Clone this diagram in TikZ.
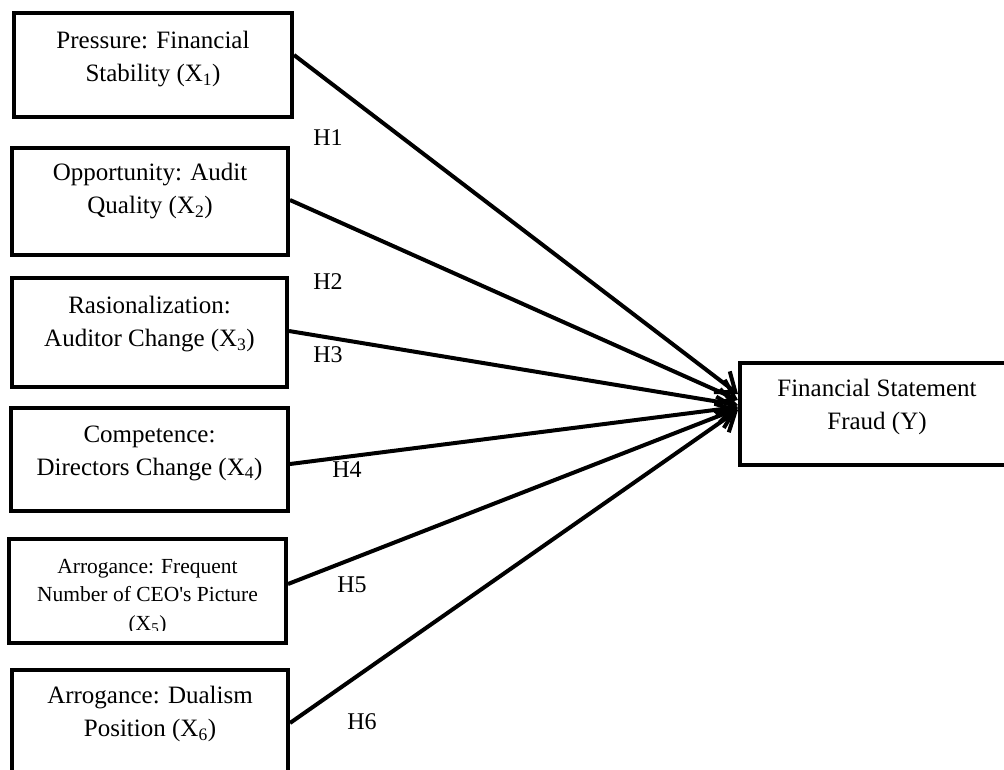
\documentclass[tikz,border=0pt]{standalone}
\usepackage{fontspec}
\setmainfont{Liberation Serif}[Ligatures=TeXOff]
\usetikzlibrary{arrows.meta}
\newcommand{\sbx}[1]{\textsubscript{#1}}
\begin{document}
\begin{tikzpicture}[x=1pt,y=-1pt,
  box/.style={draw=black,line width=4pt,inner sep=0pt,fill=none},
  txt/.style={align=center,inner sep=0pt,font=\fontsize{25}{33}\selectfont},
  smalltxt/.style={align=center,inner sep=0pt,font=\fontsize{21.5}{28.5}\selectfont},
  hlab/.style={inner sep=0pt,font=\fontsize{24}{28}\selectfont},
  link/.style={line width=4pt,-{Straight Barb[length=17pt,width=26pt]}}]
\useasboundingbox (0,0) rectangle (1004,769);
% boxes
\node[box,minimum width=278pt,minimum height=104pt] (b1) at (153,65) {};
\node[box,minimum width=276pt,minimum height=107pt] (b2) at (150,201.5) {};
\node[box,minimum width=275pt,minimum height=109pt] (b3) at (149.5,332.5) {};
\node[box,minimum width=277pt,minimum height=103pt] (b4) at (149.5,459.5) {};
\node[box,minimum width=277pt,minimum height=104pt] (b5) at (147.5,591) {};
\node[box,minimum width=276pt,minimum height=130pt] (b6) at (150,735) {};
\node[box,minimum width=280pt,minimum height=102pt] (tg) at (880,414) {};
% texts
\node[txt] (t1) at (153,59) {Pressure: Financial\\Stability (X\sbx{1})};
\node[txt] (t2) at (150,191) {Opportunity: Audit\\Quality (X\sbx{2})};
\node[txt] (t3) at (149.5,324) {Rasionalization:\\Auditor Change (X\sbx{3})};
\node[txt] (t4) at (149.5,453) {Competence:\\Directors Change (X\sbx{4})};
\begin{scope}
\clip (0,539) rectangle (300,630);
\node[smalltxt,anchor=north] (t5) at (147.5,559) {Arrogance: Frequent\\Number of CEO's Picture\\(X\sbx{5})};
\end{scope}
\node[txt] (t6) at (150,714) {Arrogance: Dualism\\Position (X\sbx{6})};
\node[txt] (tt) at (877,407) {Financial Statement\\Fraud (Y)};
% connectors
\draw[link] ([yshift=10pt]b1.east) -- ([yshift=20pt]tg.west);
\draw[link] ([yshift=1.5pt]b2.east) -- ([yshift=14pt]tg.west);
\draw[link] ([yshift=1.5pt]b3.east) -- ([yshift=9pt]tg.west);
\draw[link] ([yshift=-4.5pt]b4.east) -- ([yshift=7pt]tg.west);
\draw[link] ([yshift=7pt]b5.east) -- ([yshift=5.5pt]tg.west);
\draw[link] ([yshift=12pt]b6.east) -- ([yshift=4pt]tg.west);
% labels
\node[hlab] (h1) at (328,138) {H1};
\node[hlab] (h2) at (328,282) {H2};
\node[hlab] (h3) at (328,355) {H3};
\node[hlab] (h4) at (347,470) {H4};
\node[hlab] (h5) at (352,585) {H5};
\node[hlab] (h6) at (362,722) {H6};
\end{tikzpicture}
\end{document}
